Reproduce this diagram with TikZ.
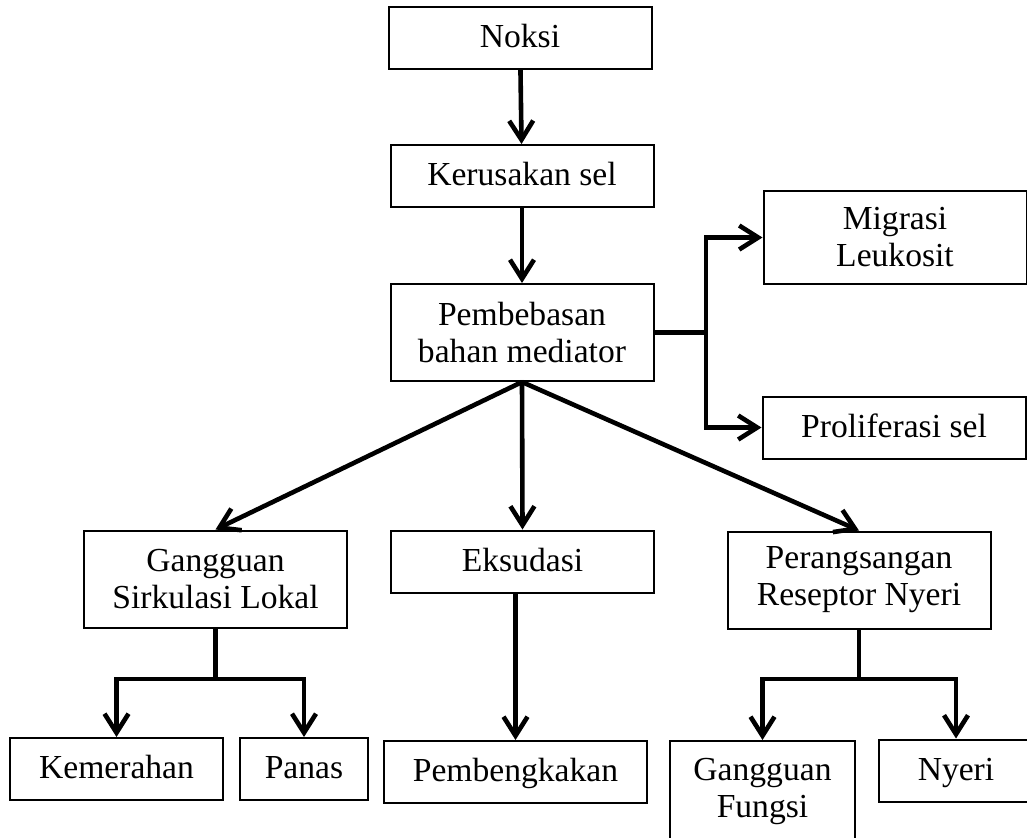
\documentclass[tikz,border=0pt]{standalone}
\usepackage{fontspec}
\setmainfont{Liberation Serif}
\usetikzlibrary{arrows.meta}

\begin{document}
\begin{tikzpicture}[x=.5pt,y=-.5pt,
  kotak/.style={draw,line width=1pt,minimum width=131.5pt,minimum height=31pt,inner sep=0pt,align=center,text height=12pt,text depth=2.5pt,font=\fontsize{16.8}{18.5}\selectfont},
  kotak2/.style={kotak,minimum height=48.5pt,text height=,text depth=},
  garis/.style={line width=2.3pt},
  panah/.style={garis,-{Straight Barb[length=9.5pt,width=12pt]}}]
\useasboundingbox (0,0) rectangle (1027,837);
\node[kotak] (noksi) at (520,38) {Noksi};
\node[kotak] (rusak) at (522,176) {Kerusakan sel};
\node[kotak2] (bebas) at (522,332.5) {Pembebasan\\bahan mediator};
\node[kotak2,minimum height=46.5pt] (migrasi) at (895,237.5) {Migrasi\\Leukosit};
\node[kotak] (prolif) at (894,427.5) {Proliferasi sel};
\node[kotak2] (gsl) at (215.5,579) {Gangguan\\Sirkulasi Lokal};
\node[kotak] (eksud) at (522.5,561.5) {Eksudasi};
\node[kotak2] (prn) at (859,580) {Perangsangan\\Reseptor Nyeri};
\node[kotak,minimum width=106.5pt] (merah) at (116.5,769) {Kemerahan};
\node[kotak,minimum width=64pt] (panas) at (304,769) {Panas};
\node[kotak] (bengkak) at (515.5,772) {Pembengkakan};
\node[kotak2,minimum width=92.5pt,minimum height=50pt] (fungsi) at (762.5,791) {Gangguan\\Fungsi};
\node[kotak,minimum width=77pt] (nyeri) at (956,770.5) {Nyeri};
\coordinate (kanan) at (706,332.5);
\coordinate (kiri) at (215.5,679);
\coordinate (bawah) at (859,679);

\draw[panah] (noksi) -- (rusak);
\draw[panah] (rusak) -- (bebas);
\draw[garis] (bebas.east) -- (kanan);
\draw[panah] (kanan) |- (migrasi.west);
\draw[panah] (kanan) |- (prolif.west);
\draw[panah] (bebas.south) -- (gsl.north);
\draw[panah] (bebas.south) -- (eksud.north);
\draw[panah] (bebas.south) -- (prn.north);
\draw[panah] (eksud.south -| bengkak) -- (bengkak.north);
\draw[garis] (gsl.south) -- (kiri);
\draw[panah] (kiri) -| (merah.north);
\draw[panah] (kiri) -| (panas.north);
\draw[garis] (prn.south) -- (bawah);
\draw[panah] (bawah) -| (fungsi.north);
\draw[panah] (bawah) -| (nyeri.north);
\end{tikzpicture}
\end{document}
